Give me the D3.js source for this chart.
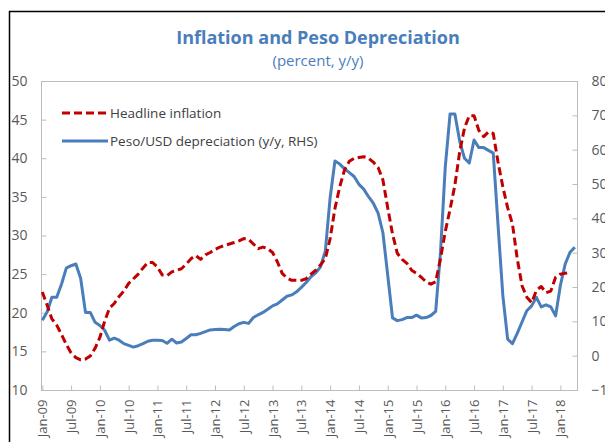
<!DOCTYPE html>
<html>
<head>
<meta charset="utf-8">
<script src="https://cdn.jsdelivr.net/npm/d3@7"></script>
<style>
  html, body { margin: 0; padding: 0; background: #fff; }
  svg { display: block; }
  text { font-family: "Open Sans", "Noto Sans", sans-serif; }
</style>
</head>
<body>
<svg id="chart" width="605" height="442"></svg>
<script>
// Monthly series, Jan-09 onward (index 0 = Jan-09)
const headlineInflation = [
  22.7, 21.0, 19.2, 18.4, 17.2, 15.9, 14.8, 14.2, 13.9, 14.0, 14.4, 15.4,
  16.8, 18.9, 20.6, 21.2, 22.1, 22.8, 23.8, 24.4, 25.0, 25.8, 26.5, 26.5,
  25.9, 24.9, 24.8, 25.3, 25.5, 25.7, 26.3, 27.0, 27.4, 26.9, 27.5, 27.8,
  28.2, 28.5, 28.7, 28.9, 29.1, 29.3, 29.6, 29.5, 28.9, 28.3, 28.5, 28.3,
  27.8, 26.6, 25.1, 24.5, 24.2, 24.2, 24.2, 24.4, 25.0, 25.5, 26.2, 27.0,
  29.6, 33.5, 36.3, 38.5, 39.6, 40.0, 40.1, 40.2, 40.0, 39.5, 38.8, 37.2,
  33.6, 30.2, 27.7, 26.9, 26.4, 25.5, 25.1, 24.6, 24.0, 23.7, 24.0, 27.0,
  30.5, 33.4, 36.5, 40.8, 43.9, 45.5, 45.5, 43.6, 42.8, 43.4, 43.2, 39.5,
  36.3, 33.6, 31.5, 27.0, 23.5, 22.0, 21.3, 22.9, 23.4, 22.6, 22.8, 24.6,
  25.0, 25.1, 25.2
];
const pesoDepreciation = [
  10.3, 12.7, 17.0, 17.0, 20.8, 25.5, 26.2, 26.7, 22.5, 12.6, 12.6, 9.7,
  8.8, 7.4, 4.5, 5.1, 4.5, 3.5, 3.0, 2.5, 2.9, 3.5, 4.2, 4.5,
  4.5, 4.4, 3.6, 4.8, 3.7, 4.0, 5.0, 6.1, 6.1, 6.5, 7.0, 7.5,
  7.6, 7.7, 7.6, 7.5, 8.5, 9.3, 9.7, 9.4, 11.1, 11.9, 12.6, 13.5,
  14.5, 15.1, 16.2, 17.3, 17.7, 18.6, 19.9, 21.3, 23.0, 24.1, 25.9, 30.5,
  46.0, 56.7, 55.8, 54.4, 53.3, 52.2, 49.9, 48.5, 46.3, 44.4, 41.5, 35.8,
  23.5, 11.0, 10.2, 10.5, 11.1, 11.1, 11.8, 11.0, 11.1, 11.7, 12.9, 30.0,
  55.0, 70.4, 70.4, 62.5, 57.5, 56.1, 62.8, 60.6, 60.6, 59.8, 59.0, 38.0,
  17.5, 4.8, 3.5, 6.5, 9.8, 13.1, 14.5, 17.0, 14.2, 14.8, 14.2, 11.6,
  20.5, 26.7, 30.1, 31.6
];
const xTickLabels = ["Jan-09","Jul-09","Jan-10","Jul-10","Jan-11","Jul-11","Jan-12","Jul-12",
  "Jan-13","Jul-13","Jan-14","Jul-14","Jan-15","Jul-15","Jan-16","Jul-16","Jan-17","Jul-17","Jan-18"];
const leftTicks = [10, 15, 20, 25, 30, 35, 40, 45, 50];
const rightTicks = [-10, 0, 10, 20, 30, 40, 50, 60, 70, 80];
const legendLabels = ["Headline inflation", "Peso/USD depreciation (y/y, RHS)"];

const red = "#c00000", blue = "#4a7ebb", axisGrey = "#bcbcbc", labelGrey = "#595959";
const plot = { left: 41, right: 577, top: 81, bottom: 390 };

const svg = d3.select("#chart");

// outer frame (top and left edges)
svg.append("path")
  .attr("d", "M9.5,442V11.5H605")
  .attr("fill", "none").attr("stroke", "#000").attr("stroke-width", 1.5);

// titles
svg.append("text").attr("x", 318).attr("y", 44).attr("text-anchor", "middle")
  .attr("fill", blue).attr("font-size", 18).attr("font-weight", 700)
  .text("Inflation and Peso Depreciation");
svg.append("text").attr("x", 318).attr("y", 66).attr("text-anchor", "middle")
  .attr("fill", blue).attr("font-size", 15)
  .text("(percent, y/y)");

// scales
const x = d3.scaleLinear().domain([0, 111]).range([42.3, 574.8]);
const yL = d3.scaleLinear().domain([10, 50]).range([plot.bottom, plot.top]);
const yR = d3.scaleLinear().domain([-10, 80]).range([plot.bottom, plot.top]);

// plot box
svg.append("rect")
  .attr("x", plot.left + 0.5).attr("y", plot.top + 0.5)
  .attr("width", plot.right - plot.left).attr("height", plot.bottom - plot.top)
  .attr("fill", "none").attr("stroke", axisGrey).attr("stroke-width", 1);

function styleAxis(g) {
  g.select(".domain").remove();
  g.selectAll(".tick line").attr("stroke", axisGrey);
  g.selectAll(".tick text").attr("fill", labelGrey).attr("font-family", "'Open Sans', sans-serif");
}

// left axis
svg.append("g").attr("transform", `translate(${plot.left + 0.5},0)`)
  .call(d3.axisLeft(yL).tickValues(leftTicks).tickSize(-5).tickPadding(14).tickFormat(d3.format("d")))
  .call(styleAxis)
  .call(g => g.selectAll(".tick text").attr("font-size", 14));

// right axis
svg.append("g").attr("transform", `translate(${plot.right + 0.5},0)`)
  .call(d3.axisRight(yR).tickValues(rightTicks).tickSize(-5).tickPadding(14).tickFormat(d3.format("d")))
  .call(styleAxis)
  .call(g => g.selectAll(".tick text").attr("font-size", 14));

// bottom axis with rotated month labels
svg.append("g").attr("transform", `translate(0,${plot.bottom + 0.5})`)
  .call(d3.axisBottom(x).tickValues(d3.range(0, 109, 6)).tickSize(-5)
    .tickFormat((d, i) => xTickLabels[i]))
  .call(styleAxis)
  .call(g => g.selectAll(".tick text")
    .attr("font-size", 13)
    .attr("transform", "rotate(-90)")
    .attr("text-anchor", "end")
    .attr("x", -9).attr("y", 0).attr("dy", "0.35em"));

// lines
const lineL = d3.line().x((d, i) => x(i)).y(d => yL(d));
const lineR = d3.line().x((d, i) => x(i)).y(d => yR(d));

svg.append("path").datum(pesoDepreciation)
  .attr("d", lineR).attr("fill", "none")
  .attr("stroke", blue).attr("stroke-width", 3).attr("stroke-linejoin", "round");

svg.append("path").datum(headlineInflation)
  .attr("d", lineL).attr("fill", "none")
  .attr("stroke", red).attr("stroke-width", 3).attr("stroke-dasharray", "8,4")
  .attr("stroke-linejoin", "round");

// legend
const legend = svg.append("g");
legend.append("line").attr("x1", 62).attr("x2", 108).attr("y1", 113).attr("y2", 113)
  .attr("stroke", red).attr("stroke-width", 3).attr("stroke-dasharray", "8,4");
legend.append("line").attr("x1", 62).attr("x2", 108).attr("y1", 141).attr("y2", 141)
  .attr("stroke", blue).attr("stroke-width", 3);
legendLabels.forEach((t, i) => {
  legend.append("text").attr("x", 110).attr("y", 113 + i * 28).attr("dy", "0.35em")
    .attr("font-size", 13.5).attr("fill", "#404040").text(t);
});
</script>
</body>
</html>
